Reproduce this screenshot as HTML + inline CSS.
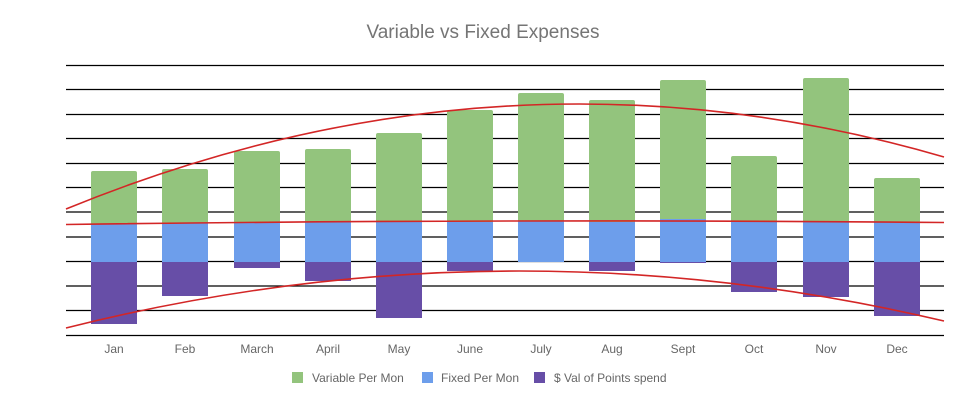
<!DOCTYPE html>
<html><head><meta charset="utf-8"><style>
body{margin:0;background:#fff}
svg{display:block;font-family:"Liberation Sans",sans-serif}
</style></head><body>
<svg width="965" height="405" viewBox="0 0 965 405">
<rect width="965" height="405" fill="#fff"/>
<text x="483" y="38" text-anchor="middle" font-size="19" fill="#757575">Variable vs Fixed Expenses</text>
<g stroke="#000" stroke-width="1.2">
<line x1="66" x2="944" y1="65.5" y2="65.5"/>
<line x1="66" x2="944" y1="89.5" y2="89.5"/>
<line x1="66" x2="944" y1="114.5" y2="114.5"/>
<line x1="66" x2="944" y1="138.5" y2="138.5"/>
<line x1="66" x2="944" y1="163.5" y2="163.5"/>
<line x1="66" x2="944" y1="187.5" y2="187.5"/>
<line x1="66" x2="944" y1="212" y2="212"/>
<line x1="66" x2="944" y1="237" y2="237"/>
<line x1="66" x2="944" y1="261.5" y2="261.5"/>
<line x1="66" x2="944" y1="286" y2="286"/>
<line x1="66" x2="944" y1="310.5" y2="310.5"/>
<line x1="66" x2="944" y1="335.5" y2="335.5"/>
</g>
<g id="bars">
<rect x="91" y="171" width="46" height="60" rx="2" fill="#93c47d"/><rect x="91" y="224" width="46" height="38" fill="#6d9eeb"/><rect x="91" y="262" width="46" height="62" fill="#674ea7"/>
<rect x="162" y="169" width="46" height="60" rx="2" fill="#93c47d"/><rect x="162" y="223" width="46" height="39" fill="#6d9eeb"/><rect x="162" y="262" width="46" height="34" fill="#674ea7"/>
<rect x="234" y="151" width="46" height="80" rx="2" fill="#93c47d"/><rect x="234" y="223" width="46" height="39" fill="#6d9eeb"/><rect x="234" y="262" width="46" height="6" fill="#674ea7"/>
<rect x="305" y="149" width="46" height="80" rx="2" fill="#93c47d"/><rect x="305" y="222" width="46" height="40" fill="#6d9eeb"/><rect x="305" y="262" width="46" height="19" fill="#674ea7"/>
<rect x="376" y="133" width="46" height="95" rx="2" fill="#93c47d"/><rect x="376" y="222" width="46" height="40" fill="#6d9eeb"/><rect x="376" y="262" width="46" height="56" fill="#674ea7"/>
<rect x="447" y="110" width="46" height="120" rx="2" fill="#93c47d"/><rect x="447" y="222" width="46" height="40" fill="#6d9eeb"/><rect x="447" y="262" width="46" height="9" fill="#674ea7"/>
<rect x="518" y="93" width="46" height="135" rx="2" fill="#93c47d"/><rect x="518" y="221" width="46" height="41" fill="#6d9eeb"/>
<rect x="589" y="100" width="46" height="130" rx="2" fill="#93c47d"/><rect x="589" y="222" width="46" height="40" fill="#6d9eeb"/><rect x="589" y="262" width="46" height="9" fill="#674ea7"/>
<rect x="660" y="80" width="46" height="145" rx="2" fill="#93c47d"/><rect x="660" y="219" width="46" height="43" fill="#6d9eeb"/><rect x="660" y="262" width="46" height="1" fill="#674ea7"/>
<rect x="731" y="156" width="46" height="75" rx="2" fill="#93c47d"/><rect x="731" y="222" width="46" height="40" fill="#6d9eeb"/><rect x="731" y="262" width="46" height="30" fill="#674ea7"/>
<rect x="803" y="78" width="46" height="150" rx="2" fill="#93c47d"/><rect x="803" y="222" width="46" height="40" fill="#6d9eeb"/><rect x="803" y="262" width="46" height="35" fill="#674ea7"/>
<rect x="874" y="178" width="46" height="50" rx="2" fill="#93c47d"/><rect x="874" y="222" width="46" height="40" fill="#6d9eeb"/><rect x="874" y="262" width="46" height="54" fill="#674ea7"/>
</g>
<g fill="none" stroke="#d32626" stroke-width="1.6">
<path d="M66 209 Q505 29.4 944 157"/>
<path d="M66 224.5 Q505 218.5 944 222.5"/>
<path d="M66 328 Q505 217.6 944 321"/>
</g>
<g font-size="12" fill="#666" text-anchor="middle">
<text x="114" y="353">Jan</text><text x="185" y="353">Feb</text><text x="257" y="353">March</text><text x="328" y="353">April</text>
<text x="399" y="353">May</text><text x="470" y="353">June</text><text x="541" y="353">July</text><text x="612" y="353">Aug</text>
<text x="683" y="353">Sept</text><text x="754" y="353">Oct</text><text x="826" y="353">Nov</text><text x="897" y="353">Dec</text>
</g>
<g font-size="12" fill="#666">
<rect x="292" y="372" width="11" height="11" fill="#93c47d"/><text x="312" y="382">Variable Per Mon</text>
<rect x="422" y="372" width="11" height="11" fill="#6d9eeb"/><text x="441" y="382">Fixed Per Mon</text>
<rect x="534" y="372" width="11" height="11" fill="#674ea7"/><text x="554" y="382">$ Val of Points spend</text>
</g>
</svg>
</body></html>
